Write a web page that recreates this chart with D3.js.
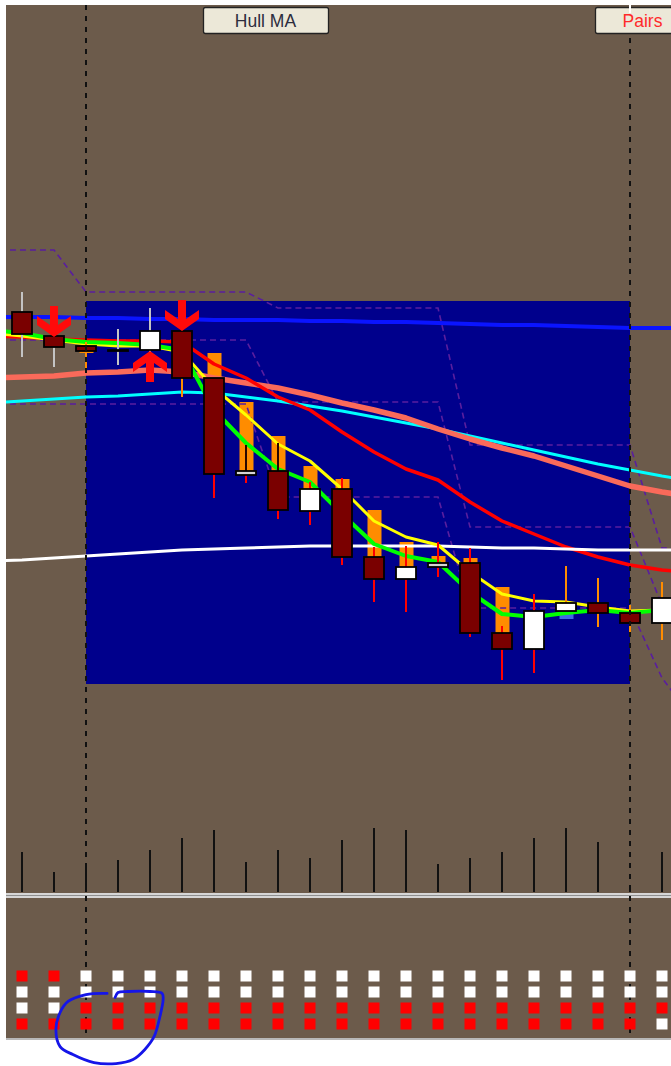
<!DOCTYPE html>
<html><head><meta charset="utf-8">
<script src="https://cdn.jsdelivr.net/npm/d3@7"></script>
<style>html,body{margin:0;padding:0;background:#fff;}svg{display:block;}</style>
</head><body>
<script>
// ---------- DATA ----------
const barIndex = d3.range(0, 21);
const open  = [1.3438,1.3414,1.3404,1.3400,1.3400,1.3419,1.3372,1.3275,1.3279,1.3239,1.3261,1.3193,1.3171,1.3183,1.3187,1.3117,1.3101,1.3139,1.3147,1.3137,1.3127];
const high  = [1.3458,1.3414,1.3408,1.3421,1.3442,1.3420,1.3372,1.3305,1.3307,1.3268,1.3272,1.3203,1.3204,1.3208,1.3202,1.3124,1.3156,1.3184,1.3172,1.3145,1.3168];
const low   = [1.3393,1.3383,1.3377,1.3385,1.3398,1.3353,1.3252,1.3267,1.3231,1.3225,1.3185,1.3148,1.3138,1.3173,1.3113,1.3070,1.3077,1.3139,1.3123,1.3118,1.3110];
const close = [1.3416,1.3403,1.3399,1.3400,1.3419,1.3372,1.3276,1.3279,1.3240,1.3261,1.3193,1.3171,1.3183,1.3187,1.3117,1.3101,1.3139,1.3147,1.3137,1.3127,1.3152];
const wickUp = ["g","g","o","g","g","o","r","k","k","r","r","r","r","r","r","r","r","o","o","o","o"];
const wickDn = ["g","g","o","g","g","o","r","r","r","r","r","r","r","r","r","r","r","o","o","o","o"];
const haOpen  = [null,null,1.3400,null,null,null,1.3397,1.3348,1.3314,1.3284,1.3271,1.3240,1.3208,1.3194,1.3192,1.3163,null,1.3131,null,null,null];
const haClose = [null,null,1.3397,null,null,null,1.3372,1.3278,1.3279,1.3261,1.3261,1.3193,1.3183,1.3187,1.3187,1.3117,null,1.3142,null,null,null];

const lineIndex = d3.range(-1, 22);
const maBlue   = [1.3433,1.3433,1.3433,1.3432,1.3432,1.3431,1.3431,1.3430,1.3430,1.3430,1.3429,1.3429,1.3428,1.3428,1.3427,1.3426,1.3425,1.3425,1.3424,1.3423,1.3422,1.3422,1.3422];
const maSalmon = [1.3372,1.3373,1.3374,1.3377,1.3378,1.3380,1.3378,1.3372,1.3367,1.3362,1.3355,1.3347,1.3340,1.3332,1.3321,1.3311,1.3302,1.3294,1.3284,1.3274,1.3264,1.3258,1.3253];
const maCyan   = [1.3347,1.3349,1.3351,1.3353,1.3354,1.3356,1.3358,1.3357,1.3353,1.3349,1.3344,1.3339,1.3333,1.3327,1.3321,1.3314,1.3307,1.3300,1.3293,1.3286,1.3280,1.3274,1.3269];
const maRed    = [1.3414,1.3413,1.3411,1.3410,1.3409,1.3409,1.3408,1.3386,1.3372,1.3353,1.3340,1.3318,1.3298,1.3281,1.3270,1.3248,1.3229,1.3216,1.3203,1.3193,1.3185,1.3180,1.3177];
const maWhite  = [1.3189,1.3190,1.3192,1.3194,1.3196,1.3198,1.3200,1.3201,1.3202,1.3203,1.3204,1.3204,1.3204,1.3204,1.3204,1.3203,1.3202,1.3202,1.3201,1.3200,1.3200,1.3200,1.3200];
const hullGreen  = [1.3420,1.3417,1.3411,1.3408,1.3407,1.3405,1.3400,1.3340,1.3307,1.3281,1.3268,1.3236,1.3206,1.3194,1.3188,1.3158,1.3136,1.3133,1.3137,1.3140,1.3137,1.3140,1.3142];
const hullYellow = [1.3417,1.3414,1.3410,1.3406,1.3404,1.3404,1.3398,1.3362,1.3335,1.3306,1.3289,1.3261,1.3229,1.3213,1.3205,1.3178,1.3156,1.3149,1.3148,1.3143,1.3139,1.3140,1.3142];
const chanA = [1.3500,1.3500,1.3500,1.3458,1.3458,1.3458,1.3458,1.3458,1.3458,1.3442,1.3442,1.3442,1.3442,1.3442,1.3442,1.3305,1.3305,1.3305,1.3305,1.3305,1.3305,1.3202,1.3202];
const chanB = [1.3410,1.3410,1.3410,1.3410,1.3410,1.3410,1.3410,1.3410,1.3410,1.3348,1.3348,1.3348,1.3348,1.3348,1.3348,1.3223,1.3223,1.3223,1.3223,1.3223,1.3223,1.3145,1.3110];
const chanC = [1.3346,1.3346,1.3346,1.3346,1.3346,1.3346,1.3346,1.3346,1.3346,1.3253,1.3253,1.3253,1.3253,1.3253,1.3253,1.3142,1.3142,1.3142,1.3142,1.3142,1.3142,1.3072,1.3030];

const volume = [1000,500,700,800,1050,1350,1550,750,1050,850,1300,1600,1550,700,850,1000,1350,1600,1250,175,1000];

const sigRow0 = [1,1,0,0,0,0,0,0,0,0,0,0,0,0,0,0,0,0,0,0,0];
const sigRow1 = [0,0,0,0,0,0,0,0,0,0,0,0,0,0,0,0,0,0,0,0,0];
const sigRow2 = [0,0,1,1,1,1,1,1,1,1,1,1,1,1,1,1,1,1,1,1,1];
const sigRow3 = [1,1,1,1,1,1,1,1,1,1,1,1,1,1,1,1,1,1,1,1,0];

const arrowsDown = [1, 5];
const arrowsUp = [4];
const sessionBox = {start: 2, end: 19, top: 1.3449, bottom: 1.3066};
const separators = [2, 19];
const buttonLabels = ["Hull MA", "Pairs"];
// hand-drawn annotation (bar index, signal-row units)
const annotBar = [2.66,2.0,1.44,1.19,1.06,1.19,1.59,2.25,2.94,3.47,3.84,4.13,4.31,4.41,4.38,4.0,3.31,3.0,2.91];
const annotRow = [1.09,1.16,1.59,2.28,3.34,4.41,4.91,5.41,5.47,5.22,4.59,3.78,2.53,1.47,1.09,0.97,0.97,1.03,1.34];

// ---------- LAYOUT ----------
const W = 671, H = 1066;
const L = 6, T = 5, R = 671, B = 1038, mainBottom = 893;
const x = d3.scaleLinear().domain([0, 20]).range([22, 662]);
const y = d3.scaleLinear().domain([1.3500, 1.3000]).range([250, 750]);
const v = d3.scaleLinear().domain([0, 2000]).range([892, 812]);
const rowY = d3.scaleLinear().domain([0, 3]).range([976, 1024]);

const BROWN = "#6C5B4B", NAVY = "#00008C";
const wickColor = {g:"#C4C4C4", o:"#FF8C00", r:"#FF0000", k:"#2A0800"};

const svg = d3.select("body").append("svg").attr("width", W).attr("height", H);
svg.append("rect").attr("width", W).attr("height", H).attr("fill", "#fff");
svg.append("rect").attr("x", L).attr("y", T).attr("width", R - L).attr("height", B - T).attr("fill", BROWN);
svg.append("rect").attr("x", L).attr("y", B).attr("width", R - L).attr("height", 2).attr("fill", "#b8b8b8");

const defs = svg.append("defs");
defs.append("clipPath").attr("id", "mainClip").append("rect")
  .attr("x", L).attr("y", T).attr("width", R - L).attr("height", mainBottom - T);
const main = svg.append("g").attr("clip-path", "url(#mainClip)");

// session box
main.append("rect")
  .attr("x", x(sessionBox.start)).attr("y", y(sessionBox.top))
  .attr("width", x(sessionBox.end) - x(sessionBox.start))
  .attr("height", y(sessionBox.bottom) - y(sessionBox.top))
  .attr("fill", NAVY);

// HA bars
main.append("g").selectAll("rect").data(barIndex.filter(i => haOpen[i] !== null)).join("rect")
  .attr("x", i => x(i) - 6.5).attr("width", 14)
  .attr("y", i => y(Math.max(haOpen[i], haClose[i])))
  .attr("height", i => Math.max(2, y(Math.min(haOpen[i], haClose[i])) - y(Math.max(haOpen[i], haClose[i]))))
  .attr("fill", i => haOpen[i] > haClose[i] ? "#FF8C00" : "#4169E1");

// channel dashed lines
const lineGen = d3.line().x((d, k) => x(lineIndex[k])).y(d => y(d));
[chanA, chanB, chanC].forEach(s => {
  main.append("path").attr("d", lineGen(s)).attr("fill", "none")
    .attr("stroke", "#5A1E9E").attr("stroke-width", 1.6).attr("stroke-dasharray", "6,4");
});

// moving averages
const mas = [
  [maCyan, "#00FFFF", 3],
  [maSalmon, "#FA6A5A", 5.5],
  [maRed, "#FF0000", 3.5],
  [maWhite, "#FFFFFF", 3],
  [maBlue, "#0A14FF", 4],
  [hullYellow, "#FFFF00", 3],
  [hullGreen, "#00FF00", 4]
];
mas.forEach(([s, c, w]) => {
  main.append("path").attr("d", lineGen(s)).attr("fill", "none")
    .attr("stroke", c).attr("stroke-width", w).attr("stroke-linejoin", "round");
});

// volume
svg.append("g").selectAll("line").data(barIndex).join("line")
  .attr("x1", i => x(i)).attr("x2", i => x(i))
  .attr("y1", v(0)).attr("y2", i => v(volume[i]))
  .attr("stroke", "#111").attr("stroke-width", 2);

// separator
svg.append("rect").attr("x", L).attr("y", mainBottom).attr("width", R - L).attr("height", 5).attr("fill", "#d6d6d6");
svg.append("line").attr("x1", L).attr("x2", R).attr("y1", mainBottom + 2.5).attr("y2", mainBottom + 2.5)
  .attr("stroke", "#8f8f8f").attr("stroke-width", 1);

// period separators
svg.append("g").selectAll("line").data(separators).join("line")
  .attr("x1", i => x(i)).attr("x2", i => x(i)).attr("y1", T).attr("y2", B)
  .attr("stroke", "#111").attr("stroke-width", 2).attr("stroke-dasharray", "5,6");

// candles
const cg = main.append("g");
barIndex.forEach(i => {
  const top = y(Math.max(open[i], close[i])), bot = y(Math.min(open[i], close[i]));
  if (y(high[i]) < top) cg.append("line").attr("x1", x(i)).attr("x2", x(i)).attr("y1", y(high[i])).attr("y2", top)
    .attr("stroke", wickColor[wickUp[i]]).attr("stroke-width", 2);
  if (y(low[i]) > bot) cg.append("line").attr("x1", x(i)).attr("x2", x(i)).attr("y1", bot).attr("y2", y(low[i]))
    .attr("stroke", wickColor[wickDn[i]]).attr("stroke-width", 2);
  const bull = close[i] >= open[i];
  cg.append("rect").attr("x", x(i) - 10).attr("width", 20)
    .attr("y", top).attr("height", Math.max(1, bot - top))
    .attr("fill", bull ? (bot - top < 5 ? "#D4D4D4" : "#FFFFFF") : "#7A0000")
    .attr("stroke", "#000").attr("stroke-width", 1.8);
});

// signal arrows
const downPts = [[0,0],[-17,-12],[-17,-21],[-4,-12],[-4,-31],[4,-31],[4,-12],[17,-21],[17,-12]];
arrowsDown.forEach(i => {
  const tx = x(i), ty = y(high[i]) + 1;
  main.append("polygon").attr("points", downPts.map(p => [tx + p[0], ty + p[1]].join(",")).join(" "))
    .attr("fill", "#FF0A0A");
});
arrowsUp.forEach(i => {
  const tx = x(i), ty = y(low[i]) - 1;
  main.append("polygon").attr("points", downPts.map(p => [tx + p[0], ty - p[1]].join(",")).join(" "))
    .attr("fill", "#FF0A0A");
});

// signal squares
[sigRow0, sigRow1, sigRow2, sigRow3].forEach((row, r) => {
  svg.append("g").selectAll("rect").data(barIndex).join("rect")
    .attr("x", i => x(i) - 5.5).attr("y", rowY(r) - 5.5)
    .attr("width", 11).attr("height", 11)
    .attr("fill", i => row[i] ? "#FF0000" : "#FFFFFF");
});

// buttons
const btnX = [203, 595], btnW = [125, 100];
buttonLabels.forEach((lab, k) => {
  const g = svg.append("g");
  g.append("rect").attr("x", btnX[k] + 0.5).attr("y", 7.5).attr("width", btnW[k]).attr("height", 26)
    .attr("rx", 2).attr("fill", "#ECE8D8").attr("stroke", "#222").attr("stroke-width", 1.3);
  g.append("text").attr("x", k === 0 ? btnX[k] + btnW[k] / 2 : 642.5).attr("y", 21)
    .attr("text-anchor", "middle").attr("dominant-baseline", "central")
    .attr("font-family", "Liberation Sans, Arial, sans-serif").attr("font-size", 17.5)
    .attr("fill", k === 0 ? "#2d2d3d" : "#FF2A2A").text(lab);
});
svg.append("line").attr("x1", x(19)).attr("x2", x(19)).attr("y1", 5).attr("y2", 13)
  .attr("stroke", "#fff").attr("stroke-width", 2);

// annotation
svg.append("path")
  .attr("d", d3.line().curve(d3.curveCatmullRom).x((d, k) => x(annotBar[k])).y((d, k) => rowY(annotRow[k]))(annotBar))
  .attr("fill", "none").attr("stroke", "#1515E8").attr("stroke-width", 2.8).attr("stroke-linecap", "round");
</script>
</body></html>
